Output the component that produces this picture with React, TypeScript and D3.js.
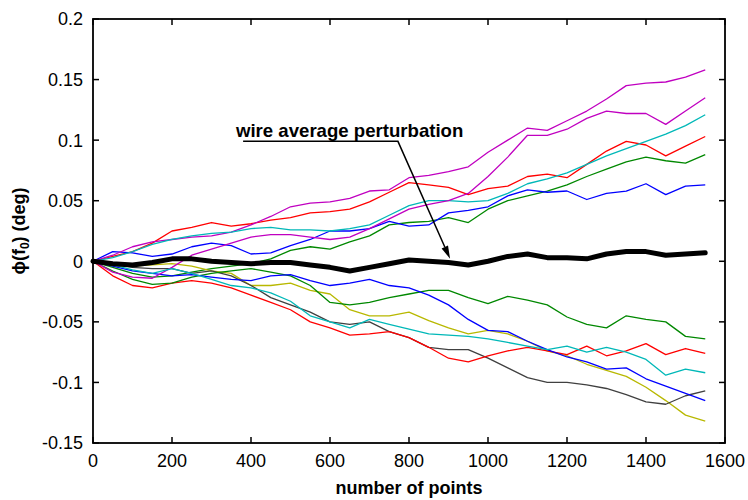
import React from 'react';
import * as d3 from 'd3';

// sample positions along the x axis (number of points)
const samplePoints = [
  0, 50, 100, 150, 200, 250, 300, 350, 400, 450, 500, 550, 600, 650, 700, 750,
  800, 850, 900, 950, 1000, 1050, 1100, 1150, 1200, 1250, 1300, 1350, 1400, 1450, 1500, 1550,
];

// phase drift of each wire, in degrees
const redA = [
  0, 0.004, 0.008, 0.015, 0.025, 0.028, 0.032, 0.029, 0.031, 0.034, 0.036, 0.04, 0.041, 0.043, 0.049, 0.057,
  0.065, 0.063, 0.061, 0.055, 0.06, 0.062, 0.07, 0.072, 0.069, 0.08, 0.091, 0.099, 0.096, 0.087, 0.095, 0.103,
];
const greenA = [
  0, -0.005, -0.01, -0.013, -0.012, -0.009, -0.006, -0.004, -0.002, 0.002, 0.009, 0.012, 0.01, 0.016, 0.021, 0.03,
  0.032, 0.033, 0.036, 0.032, 0.043, 0.05, 0.054, 0.058, 0.063, 0.07, 0.076, 0.082, 0.086, 0.083, 0.081, 0.088,
];
const blueA = [
  0, 0.008, 0.007, 0.004, 0.006, 0.012, 0.015, 0.013, 0.006, 0.007, 0.013, 0.018, 0.025, 0.025, 0.027, 0.033,
  0.029, 0.03, 0.04, 0.042, 0.045, 0.054, 0.059, 0.057, 0.058, 0.051, 0.056, 0.058, 0.064, 0.055, 0.062, 0.063,
];
const magentaA = [
  0, 0.005, 0.012, 0.016, 0.018, 0.02, 0.021, 0.024, 0.03, 0.037, 0.045, 0.048, 0.049, 0.052, 0.058, 0.059,
  0.069, 0.071, 0.074, 0.078, 0.09, 0.1, 0.11, 0.108, 0.116, 0.124, 0.134, 0.145, 0.147, 0.148, 0.152, 0.158,
];
const cyanA = [
  0, 0.003, 0.008, 0.014, 0.018, 0.021, 0.023, 0.024, 0.027, 0.028, 0.026, 0.026, 0.025, 0.027, 0.03, 0.038,
  0.046, 0.05, 0.05, 0.049, 0.05, 0.056, 0.064, 0.068, 0.073, 0.08, 0.087, 0.093, 0.099, 0.105, 0.112, 0.121,
];
const yellowA = [
  0, -0.002, -0.004, -0.003, -0.002, -0.004, -0.008, -0.01, -0.02, -0.02, -0.018, -0.024, -0.027, -0.04, -0.045, -0.045,
  -0.042, -0.049, -0.055, -0.06, -0.057, -0.06, -0.066, -0.074, -0.078, -0.085, -0.09, -0.095, -0.104, -0.115, -0.127, -0.132,
];
const greyA = [
  0, -0.002, -0.005, -0.006, -0.006, -0.01, -0.008, -0.012, -0.02, -0.03, -0.036, -0.042, -0.05, -0.052, -0.05, -0.058,
  -0.063, -0.071, -0.073, -0.073, -0.08, -0.088, -0.096, -0.1, -0.1, -0.102, -0.105, -0.11, -0.116, -0.118, -0.111, -0.107,
];
const redB = [
  0, -0.012, -0.02, -0.022, -0.018, -0.016, -0.018, -0.022, -0.028, -0.034, -0.04, -0.05, -0.055, -0.061, -0.06, -0.058,
  -0.063, -0.071, -0.08, -0.083, -0.078, -0.074, -0.071, -0.074, -0.077, -0.07, -0.078, -0.074, -0.068, -0.077, -0.072, -0.076,
];
const greenB = [
  0, -0.008, -0.015, -0.019, -0.018, -0.013, -0.01, -0.008, -0.006, -0.009, -0.012, -0.02, -0.034, -0.036, -0.034, -0.03,
  -0.027, -0.024, -0.024, -0.03, -0.035, -0.029, -0.032, -0.036, -0.046, -0.052, -0.055, -0.045, -0.048, -0.05, -0.062, -0.064,
];
const blueB = [
  0, -0.004, -0.008, -0.01, -0.012, -0.011, -0.013, -0.015, -0.016, -0.012, -0.011, -0.016, -0.02, -0.018, -0.015, -0.02,
  -0.022, -0.028, -0.036, -0.048, -0.057, -0.058, -0.066, -0.073, -0.079, -0.083, -0.089, -0.088, -0.097, -0.103, -0.109, -0.115,
];
const magentaB = [
  0, -0.009, -0.013, -0.014, -0.005, 0.005, 0.01, 0.015, 0.02, 0.022, 0.022, 0.02, 0.018, 0.02, 0.027, 0.035,
  0.043, 0.047, 0.05, 0.056, 0.07, 0.086, 0.104, 0.104, 0.109, 0.118, 0.124, 0.122, 0.122, 0.113, 0.124, 0.135,
];
const cyanB = [
  0, -0.003, -0.007, -0.01, -0.006, -0.01, -0.015, -0.02, -0.022, -0.026, -0.033, -0.045, -0.05, -0.055, -0.048, -0.052,
  -0.056, -0.06, -0.061, -0.062, -0.064, -0.067, -0.07, -0.073, -0.07, -0.075, -0.071, -0.075, -0.081, -0.094, -0.089, -0.092,
];
const wireAverage = [
  0, -0.002, -0.003, -0.001, 0.002, 0.002, 0, -0.001, -0.002, -0.001, -0.001, -0.003, -0.005, -0.008, -0.005, -0.002,
  0.001, 0, -0.001, -0.003, 0, 0.004, 0.006, 0.003, 0.003, 0.002, 0.006, 0.008, 0.008, 0.005, 0.006, 0.007,
];

const wireValues = [redA, greenA, blueA, magentaA, cyanA, yellowA, greyA, redB, greenB, blueB, magentaB, cyanB];
const wireColors = [
  '#ff0000', '#008800', '#0000ff', '#c000c0', '#00b8b8', '#b8b800', '#404040',
  '#ff0000', '#008800', '#0000ff', '#c000c0', '#00b8b8',
];

const xTicks = [0, 200, 400, 600, 800, 1000, 1200, 1400, 1600];
const yTicks = [-0.15, -0.1, -0.05, 0, 0.05, 0.1, 0.15, 0.2];
const yTickLabels = ['-0.15', '-0.1', '-0.05', '0', '0.05', '0.1', '0.15', '0.2'];

// annotation anchor points in data units: label start, leader corner, arrow tip
const labelAt = [362, 0.103];
const leaderStart = [380, 0.099];
const leaderCorner = [772, 0.099];
const arrowTip = [904, 0.002];

const W = 748;
const H = 500;
const FONT = '"Liberation Sans", Arial, Helvetica, sans-serif';

export default function App() {
  const x = d3.scaleLinear().domain([0, 1600]).range([93, 725]);
  const y = d3.scaleLinear().domain([-0.15, 0.2]).range([443, 19]);

  const line = d3
    .line<number>()
    .x((_, i) => x(samplePoints[i]))
    .y((d) => y(d));

  // leader line and arrowhead
  const sx = x(leaderStart[0]);
  const sy = y(leaderStart[1]);
  const cx = x(leaderCorner[0]);
  const tx = x(arrowTip[0]);
  const ty = y(arrowTip[1]);
  const cy = sy;
  const len = Math.hypot(tx - cx, ty - cy);
  const ux = (tx - cx) / len;
  const uy = (ty - cy) / len;
  const headLen = 13;
  const headHalf = 3.5;
  const bx = tx - ux * headLen;
  const by = ty - uy * headLen;
  const head = `M${tx},${ty}L${bx - uy * headHalf},${by + ux * headHalf}L${bx + uy * headHalf},${by - ux * headHalf}Z`;

  const [x0, x1] = x.range();
  const [y0, y1] = y.range();
  const tick = 6;

  return (
    <svg
      width={W}
      height={H}
      style={{ position: 'absolute', left: 0, top: 0, background: '#fff' }}
      fontFamily={FONT}
    >
      <rect x={0} y={0} width={W} height={H} fill="#fff" />

      {/* wire traces */}
      <g fill="none" strokeWidth={1.3} strokeLinejoin="round">
        {wireValues.map((vals, i) => (
          <path key={i} d={line(vals) || ''} stroke={wireColors[i]} />
        ))}
      </g>

      {/* average over wires */}
      <path
        d={line(wireAverage) || ''}
        fill="none"
        stroke="#000"
        strokeWidth={5}
        strokeLinejoin="round"
        strokeLinecap="round"
      />

      {/* frame */}
      <rect x={x0} y={y1} width={x1 - x0} height={y0 - y1} fill="none" stroke="#000" strokeWidth={1.8} />

      {/* ticks, mirrored on the opposite sides */}
      <g stroke="#000" strokeWidth={1.5}>
        {xTicks.map((t) => (
          <g key={'xt' + t}>
            <line x1={x(t)} x2={x(t)} y1={y0} y2={y0 - tick} />
            <line x1={x(t)} x2={x(t)} y1={y1} y2={y1 + tick} />
          </g>
        ))}
        {yTicks.map((t) => (
          <g key={'yt' + t}>
            <line x1={x0} x2={x0 + tick} y1={y(t)} y2={y(t)} />
            <line x1={x1} x2={x1 - tick} y1={y(t)} y2={y(t)} />
          </g>
        ))}
      </g>

      <g fontSize={18} fill="#000">
        {xTicks.map((t) => (
          <text key={'xl' + t} x={x(t)} y={467} textAnchor="middle">
            {t}
          </text>
        ))}
        {yTicks.map((t, i) => (
          <text key={'yl' + t} x={83} y={y(t)} dy="0.36em" textAnchor="end">
            {yTickLabels[i]}
          </text>
        ))}
      </g>

      {/* axis titles */}
      <text x={(x0 + x1) / 2} y={494} textAnchor="middle" fontSize={18} fontWeight="bold">
        number of points
      </text>
      <text
        transform={`translate(25,${(y0 + y1) / 2}) rotate(-90)`}
        textAnchor="middle"
        fontSize={18}
        fontWeight="bold"
      >
        <tspan>ϕ(f</tspan>
        <tspan fontSize={12} dy={4}>0</tspan>
        <tspan dy={-4}>) (deg)</tspan>
      </text>

      {/* annotation */}
      <text x={x(labelAt[0])} y={y(labelAt[1])} fontSize={18.6} fontWeight="bold">
        wire average perturbation
      </text>
      <path d={`M${sx},${sy}H${cx}L${bx},${by}`} fill="none" stroke="#000" strokeWidth={1.5} />
      <path d={head} fill="#000" />
    </svg>
  );
}
